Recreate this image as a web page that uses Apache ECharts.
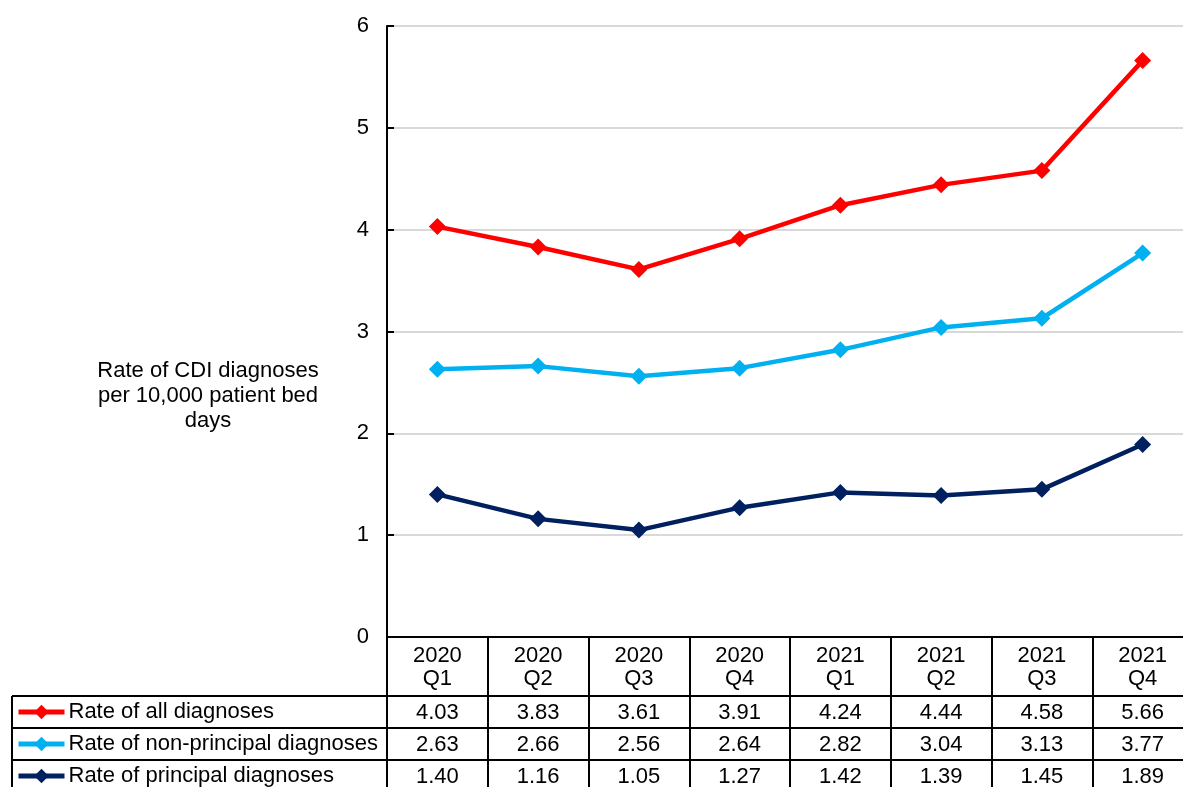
<!DOCTYPE html>
<html>
<head>
<meta charset="utf-8">
<script src="https://cdn.jsdelivr.net/npm/echarts@6/dist/echarts.min.js"></script>
<style>
  html, body { margin: 0; padding: 0; background: #fff; }
  #chart { width: 1183px; height: 787px; }
</style>
</head>
<body>
<div id="chart"></div>
<script>
// Quarterly CDI diagnosis rates per 10,000 patient bed days
const quarters = ['2020 Q1', '2020 Q2', '2020 Q3', '2020 Q4', '2021 Q1', '2021 Q2', '2021 Q3', '2021 Q4'];
const allDiagnoses = [4.03, 3.83, 3.61, 3.91, 4.24, 4.44, 4.58, 5.66];
const nonPrincipal = [2.63, 2.66, 2.56, 2.64, 2.82, 3.04, 3.13, 3.77];
const principal = [1.40, 1.16, 1.05, 1.27, 1.42, 1.39, 1.45, 1.89];
const seriesNames = ['Rate of all diagnoses', 'Rate of non-principal diagnoses', 'Rate of principal diagnoses'];
const seriesColors = ['#ff0000', '#00b0f0', '#002060'];
const yTicks = [0, 1, 2, 3, 4, 5, 6];
const axisTitle = 'Rate of CDI diagnoses\nper 10,000 patient bed\ndays';

const FONT = '"Liberation Sans", Arial, sans-serif';
const FS = 22;
const seriesData = [allDiagnoses, nonPrincipal, principal];

const chart = echarts.init(document.getElementById('chart'), null, { renderer: 'canvas' });

const TABLE_TOP = 637;
const HEADER_BOTTOM = 696;
const ROW_H = 32;
const TABLE_LEFT = 12;

const option = {
  animation: false,
  textStyle: { fontFamily: FONT },
  grid: {
    left: 387, width: 806, top: 26, height: TABLE_TOP - 26,
    containLabel: false, outerBoundsMode: 'none'
  },
  legend: {
    orient: 'vertical',
    left: 16,
    top: HEADER_BOTTOM,
    height: 200,
    padding: 0,
    itemGap: 0,
    itemWidth: 46,
    itemHeight: 18,
    selectedMode: false,
    lineStyle: { width: 5 },
    textStyle: { fontSize: FS, color: '#000', fontFamily: FONT, lineHeight: ROW_H, padding: [0, 0, 0, -1] },
    data: seriesNames
  },
  xAxis: {
    type: 'category',
    data: quarters,
    boundaryGap: true,
    axisLine: { show: true, lineStyle: { color: '#000', width: 2 } },
    axisTick: { show: true, inside: false, length: 787 - TABLE_TOP, interval: 0, lineStyle: { color: '#000', width: 2 } },
    axisLabel: {
      interval: 0,
      margin: 7,
      fontSize: FS,
      lineHeight: 23,
      color: '#000',
      fontFamily: FONT,
      formatter: v => v.replace(' ', '\n')
    },
    splitLine: { show: false }
  },
  yAxis: {
    type: 'value',
    min: yTicks[0],
    max: yTicks[yTicks.length - 1],
    interval: 1,
    axisLine: { show: true, lineStyle: { color: '#000', width: 2 } },
    axisTick: { show: true, inside: true, length: 7, lineStyle: { color: '#000', width: 2 } },
    axisLabel: { fontSize: FS, color: '#000', margin: 18, fontFamily: FONT },
    splitLine: { show: true, lineStyle: { color: '#d9d9d9', width: 2 } }
  },
  series: seriesNames.map((name, i) => ({
    name,
    type: 'line',
    data: seriesData[i],
    symbol: 'diamond',
    symbolSize: 17,
    color: seriesColors[i],
    lineStyle: { width: 4.5, color: seriesColors[i] },
    itemStyle: { color: seriesColors[i] },
    z: 10 - i
  }))
};

chart.setOption(option);

// Data table beneath the axis: borders and value cells
function buildTable() {
  const W = chart.getWidth();
  const H = chart.getHeight();
  const g = [];
  const line = (x1, y1, x2, y2) => g.push({
    type: 'line', silent: true,
    shape: { x1, y1, x2, y2 },
    style: { stroke: '#000', lineWidth: 2 }
  });
  for (let r = 0; r < seriesNames.length; r++) {
    line(TABLE_LEFT, HEADER_BOTTOM + r * ROW_H, W, HEADER_BOTTOM + r * ROW_H);
  }
  line(TABLE_LEFT, HEADER_BOTTOM, TABLE_LEFT, H);

  seriesData.forEach((vals, r) => {
    vals.forEach((v, c) => {
      const x = chart.convertToPixel({ xAxisIndex: 0 }, c);
      g.push({
        type: 'text', silent: true,
        x, y: HEADER_BOTTOM + r * ROW_H + ROW_H / 2 + 1,
        style: {
          text: v.toFixed(2),
          font: FS + 'px ' + FONT,
          fill: '#000',
          align: 'center',
          verticalAlign: 'middle'
        }
      });
    });
  });

  g.push({
    type: 'text', silent: true,
    x: 208, y: 396,
    style: {
      text: axisTitle,
      font: '22px ' + FONT,
      fill: '#000',
      align: 'center',
      verticalAlign: 'middle',
      lineHeight: 25
    }
  });
  chart.setOption({ graphic: g });
}
buildTable();
</script>
</body>
</html>
